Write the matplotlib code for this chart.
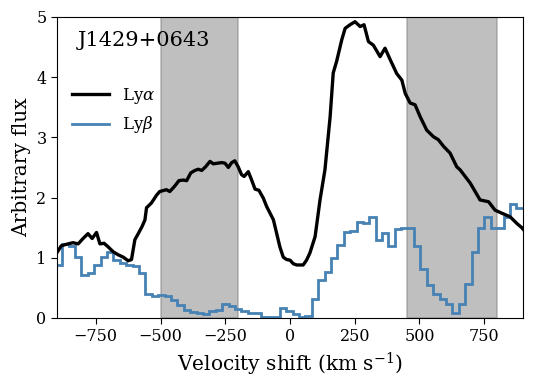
import numpy as np
import matplotlib
matplotlib.use("Agg")
import matplotlib.pyplot as plt

# Ly-alpha profile (velocity in km/s, flux)
vel_lya = [-905, -883, -857, -838, -818, -799, -780, -764, -747, -734,
           -718, -702, -683, -664, -644, -625, -612, -599, -586, -571,
           -560, -554, -535, -515, -503, -477, -464, -445, -429, -412,
           -399, -383, -367, -354, -341, -326, -309, -296, -280, -264,
           -251, -238, -225, -213, -200, -187, -177, -161, -148, -135,
           -120, -103, -90, -64, -39, -26, -13, 0, 13, 26,
           51, 64, 77, 97, 116, 135, 155, 167, 180, 200,
           213, 232, 251, 271, 286, 303, 322, 348, 367, 387,
           412, 432, 445, 464, 483, 503, 528, 554, 573, 593,
           618, 644, 657, 696, 734, 767, 792, 818, 850, 876,
           895, 905]
flux_lya = [1.05, 1.20, 1.23, 1.25, 1.23, 1.32, 1.40, 1.32, 1.42, 1.23,
            1.24, 1.18, 1.10, 1.05, 1.01, 0.95, 0.97, 1.30, 1.40, 1.52,
            1.63, 1.83, 1.91, 2.04, 2.10, 2.13, 2.10, 2.19, 2.28, 2.29,
            2.28, 2.41, 2.45, 2.47, 2.45, 2.51, 2.60, 2.56, 2.57, 2.58,
            2.57, 2.50, 2.58, 2.61, 2.51, 2.38, 2.35, 2.43, 2.29, 2.14,
            2.12, 1.99, 1.85, 1.63, 1.18, 1.01, 0.97, 0.96, 0.90, 0.88,
            0.88, 0.96, 1.08, 1.35, 1.96, 2.46, 3.34, 4.07, 4.26, 4.62,
            4.81, 4.87, 4.92, 4.84, 4.87, 4.59, 4.53, 4.34, 4.48, 4.29,
            4.06, 3.95, 3.73, 3.57, 3.54, 3.34, 3.12, 3.01, 2.96, 2.85,
            2.74, 2.51, 2.46, 2.24, 1.96, 1.93, 1.79, 1.74, 1.68, 1.57,
            1.50, 1.45]

# Ly-beta binned profile: bin edges (km/s) and flux per bin
edges_lyb = [-904.0, -879.3, -854.6, -829.9, -805.2, -780.5, -755.8, -731.1,
             -706.4, -681.7, -657.0, -632.3, -607.6, -582.9, -558.2, -533.5,
             -508.8, -484.1, -459.4, -434.7, -410.0, -385.3, -360.6, -335.9,
             -311.2, -286.5, -261.8, -237.1, -212.4, -187.7, -163.0, -138.3,
             -113.6, -88.9, -64.2, -39.5, -14.8, 9.9, 34.6, 59.3,
             84.0, 108.7, 133.4, 158.1, 182.8, 207.5, 232.2, 256.9,
             281.6, 306.3, 331.0, 355.7, 380.4, 405.1, 429.8, 454.5,
             479.2, 503.9, 528.6, 553.3, 578.0, 602.7, 627.4, 652.1,
             676.8, 701.5, 726.2, 750.9, 775.6, 800.3, 825.0, 849.7,
             874.4, 899.1, 923.8]
flux_lyb = [0.88, 1.23, 1.20, 1.01, 0.72, 0.75, 0.88, 1.01, 1.10, 0.97,
            0.92, 0.88, 0.86, 0.74, 0.40, 0.37, 0.38, 0.36, 0.30, 0.22,
            0.14, 0.10, 0.09, 0.07, 0.12, 0.13, 0.24, 0.20, 0.15, 0.12,
            0.08, 0.08, 0.01, 0.01, 0.01, 0.16, 0.12, 0.07, 0.02, 0.04,
            0.31, 0.63, 0.77, 0.99, 1.21, 1.42, 1.45, 1.60, 1.57, 1.68,
            1.30, 1.41, 1.20, 1.47, 1.49, 1.49, 1.20, 0.81, 0.54, 0.40,
            0.32, 0.24, 0.08, 0.23, 0.56, 1.09, 1.49, 1.67, 1.50, 1.50,
            1.68, 1.89, 1.83, 1.83]

# shaded velocity windows
windows = [(-500, -200), (450, 800)]

plt.rcParams['font.family'] = 'DejaVu Serif'
plt.rcParams['mathtext.fontset'] = 'dejavuserif'


def grafico():
    fig = plt.figure(figsize=(5.37, 3.84), dpi=100)
    ax = fig.add_axes([0.106, 0.172, 0.868, 0.784])

    for lo, hi in windows:
        ax.axvspan(lo, hi, color='gray', alpha=0.5, lw=1.2)

    ax.plot(vel_lya, flux_lya, color='black', lw=2.4, label=r'Ly$\alpha$')
    ax.stairs(flux_lyb, edges_lyb, color='steelblue', lw=2.0,
              label=r'Ly$\beta$')

    ax.set_xlim(-900, 900)
    ax.set_ylim(0, 5)
    ax.set_xticks([-750, -500, -250, 0, 250, 500, 750])
    ax.set_yticks([0, 1, 2, 3, 4, 5])
    ax.tick_params(labelsize=11.5, length=4)
    ax.set_xlabel(r'Velocity shift (km s$^{-1}$)', fontsize=14.5)
    ax.set_ylabel('Arbitrary flux', fontsize=14.5)

    ax.text(0.045, 0.92, 'J1429+0643', transform=ax.transAxes,
            fontsize=15, va='center')
    ax.legend(loc='upper left', bbox_to_anchor=(0.0, 0.82), frameon=False,
              fontsize=12, handlelength=2.2)

    fig.savefig('out.png', dpi=100)


if __name__ == "__main__":
    grafico()
